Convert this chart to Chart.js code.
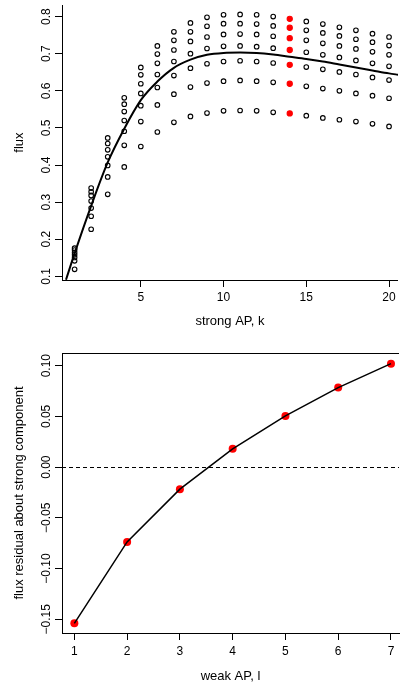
<!DOCTYPE html>
<html><head><meta charset="utf-8">
<script src="https://cdn.jsdelivr.net/npm/chart.js@4"></script>
<style>
html,body{margin:0;padding:0;background:#fff;width:403px;height:689px;overflow:hidden}
#c1{position:absolute;left:0;top:0;width:403px;height:345px}
#c2{position:absolute;left:0;top:345px;width:403px;height:344px}
</style></head><body>
<div id="c1"><canvas id="topChart"></canvas></div>
<div id="c2"><canvas id="botChart"></canvas></div>
<script>
// ---- data ----
const strongK = [1,2,3,4,5,6,7,8,9,10,11,12,13,14,15,16,17,18,19,20];
const weakL = [1,2,3,4,5,6,7];
const fluxL1 = [0.119,0.227,0.321,0.395,0.450,0.489,0.515,0.531,0.540,0.546,0.547,0.546,0.542,0.539,0.533,0.527,0.522,0.517,0.511,0.504];
const fluxL2 = [0.142,0.262,0.368,0.453,0.517,0.562,0.591,0.610,0.621,0.626,0.628,0.626,0.623,0.619,0.612,0.606,0.600,0.593,0.587,0.580];
const fluxL3 = [0.151,0.284,0.399,0.491,0.560,0.609,0.641,0.661,0.673,0.679,0.681,0.679,0.675,0.670,0.664,0.658,0.651,0.644,0.636,0.629];
const fluxL4 = [0.158,0.303,0.422,0.520,0.593,0.644,0.679,0.700,0.714,0.720,0.721,0.719,0.715,0.710,0.704,0.697,0.690,0.682,0.674,0.666];
const fluxL5 = [0.164,0.318,0.441,0.544,0.619,0.674,0.710,0.733,0.745,0.752,0.753,0.752,0.747,0.742,0.736,0.728,0.721,0.713,0.705,0.697];
const fluxL6 = [0.171,0.328,0.458,0.564,0.643,0.699,0.736,0.759,0.774,0.781,0.781,0.780,0.775,0.770,0.763,0.756,0.748,0.739,0.731,0.722];
const fluxL7 = [0.176,0.338,0.473,0.581,0.663,0.721,0.759,0.783,0.798,0.805,0.806,0.805,0.800,0.794,0.787,0.780,0.771,0.763,0.754,0.745];
const highlightK = 14;
const curveK    = [0.48, 1, 2, 3, 4, 5, 6, 7, 8, 9, 10, 11, 12, 13, 14, 15, 16, 17, 18, 19, 20, 20.6];
const curveFlux = [0.091,0.162,0.290,0.407,0.498,0.575,0.625,0.662,0.684,0.697,0.702,0.703,0.702,0.698,0.692,0.686,0.679,0.671,0.663,0.655,0.647,0.643];
const residual = [-0.154,-0.0737,-0.0217,0.018,0.0505,0.0784,0.102];
const xTicksTop = [5,10,15,20];
const yTicksTop = [0.1,0.2,0.3,0.4,0.5,0.6,0.7,0.8];
const yLabelsTop = ['0.1','0.2','0.3','0.4','0.5','0.6','0.7','0.8'];
const xTicksBottom = [1,2,3,4,5,6,7];
const yTicksBottom = [-0.15,-0.10,-0.05,0,0.05,0.10];
const yLabelsBottom = ['\u22120.15','\u22120.10','\u22120.05','0.00','0.05','0.10'];

// ---- style ----
const FONT = '"Liberation Sans", Arial, Helvetica, sans-serif';
Chart.defaults.font.family = FONT;
Chart.defaults.font.size = 12;
Chart.defaults.color = '#000';
const TITLE_FONT = {size: 13, family: FONT};

const rYLabels = {
  id: 'rYLabels',
  afterDraw(chart, args, opts) {
    const ys = chart.scales.y, ctx = chart.ctx;
    ctx.save();
    ctx.font = '12px ' + FONT;
    ctx.fillStyle = '#000';
    ctx.textAlign = 'center';
    ctx.textBaseline = 'alphabetic';
    ys.ticks.forEach((t, i) => {
      const py = ys.getPixelForValue(t.value);
      ctx.save();
      ctx.translate(opts.x, py);
      ctx.rotate(-Math.PI / 2);
      ctx.fillText(opts.labels[i], 0, 0);
      ctx.restore();
    });
    ctx.restore();
  }
};

const refLines = {
  id: 'refLines',
  beforeDatasetsDraw(chart, args, opts) {
    if (!opts.enabled) return;
    const {ctx, chartArea} = chart;
    const ys = chart.scales.y;
    ctx.save();
    ctx.strokeStyle = '#000';
    ctx.lineWidth = 1;
    ctx.setLineDash([4, 3]);
    const py = Math.round(ys.getPixelForValue(0)) + 0.5;
    ctx.beginPath(); ctx.moveTo(chartArea.left, py); ctx.lineTo(chartArea.right, py); ctx.stroke();
    ctx.setLineDash([]);
    const ty = Math.floor(chartArea.top) + 0.5;
    ctx.beginPath(); ctx.moveTo(chartArea.left, ty); ctx.lineTo(chartArea.right, ty); ctx.stroke();
    ctx.restore();
  }
};

function axisCommon() {
  return {
    grid: {display: true, drawOnChartArea: false, drawTicks: true, tickLength: 7, color: '#000', lineWidth: 1},
    border: {display: true, color: '#000', width: 1}
  };
}

// ---- top chart ----
const fluxRows = [fluxL1, fluxL2, fluxL3, fluxL4, fluxL5, fluxL6, fluxL7];
const topDatasets = [{
  label: 'fit',
  data: curveK.map((k, i) => ({x: k, y: curveFlux[i]})),
  showLine: true, borderColor: '#000', borderWidth: 2, pointRadius: 0,
  cubicInterpolationMode: 'monotone', fill: false
}];
fluxRows.forEach((row, li) => {
  topDatasets.push({
    label: 'l=' + weakL[li],
    data: strongK.map((k, i) => ({x: k, y: row[i]})),
    showLine: false,
    pointRadius: strongK.map(k => k === highlightK ? 2.6 : 2.3),
    pointBorderWidth: 1.1,
    pointBorderColor: strongK.map(k => k === highlightK ? '#ff0000' : '#000'),
    pointBackgroundColor: strongK.map(k => k === highlightK ? '#ff0000' : 'rgba(0,0,0,0)')
  });
});

new Chart(document.getElementById('topChart'), {
  type: 'scatter',
  data: {datasets: topDatasets},
  options: {
    responsive: true, maintainAspectRatio: false, animation: false,
    layout: {padding: {top: 0, left: 0, right: 0, bottom: 0}},
    plugins: {legend: {display: false}, tooltip: {enabled: false},
      rYLabels: {x: 49.5, labels: yLabelsTop}, refLines: {enabled: false}},
    scales: {
      x: Object.assign(axisCommon(), {
        type: 'linear', min: 0.238, max: 20.536,
        afterBuildTicks: s => { s.ticks = xTicksTop.map(v => ({value: v})); },
        afterFit: s => { s.height = 65; },
        ticks: {autoSkip: false, maxRotation: 0, minRotation: 0, padding: 3, color: '#000', callback: v => String(v)},
        title: {display: true, text: 'strong AP, k', color: '#000', font: TITLE_FONT, padding: {top: 0, bottom: 15.8}}
      }),
      y: Object.assign(axisCommon(), {
        type: 'linear', min: 0.0902, max: 0.831,
        afterBuildTicks: s => { s.ticks = yTicksTop.map(v => ({value: v})); },
        afterFit: s => { s.width = 62; },
        ticks: {display: false},
        title: {display: true, text: 'flux', color: '#000', font: TITLE_FONT, padding: {top: 11.7, bottom: 0}}
      })
    }
  },
  plugins: [rYLabels, refLines]
});

// ---- bottom chart ----
new Chart(document.getElementById('botChart'), {
  type: 'scatter',
  data: {datasets: [
    {label: 'line', data: weakL.map((l, i) => ({x: l, y: residual[i]})), showLine: true,
     borderColor: '#000', borderWidth: 1.5, pointRadius: 0, tension: 0, fill: false},
    {label: 'pts', data: weakL.map((l, i) => ({x: l, y: residual[i]})), showLine: false,
     pointRadius: 4, pointBorderWidth: 0, pointBackgroundColor: '#ff0000', pointBorderColor: '#ff0000'}
  ]},
  options: {
    responsive: true, maintainAspectRatio: false, animation: false,
    layout: {padding: {top: 8, left: 0, right: 0, bottom: 0}},
    plugins: {legend: {display: false}, tooltip: {enabled: false},
      rYLabels: {x: 49.5, labels: yLabelsBottom}, refLines: {enabled: true}},
    scales: {
      x: Object.assign(axisCommon(), {
        type: 'linear', min: 0.766, max: 7.152,
        afterBuildTicks: s => { s.ticks = xTicksBottom.map(v => ({value: v})); },
        afterFit: s => { s.height = 56; },
        ticks: {autoSkip: false, maxRotation: 0, minRotation: 0, padding: 4, color: '#000', callback: v => String(v)},
        title: {display: true, text: 'weak AP, l', color: '#000', font: TITLE_FONT, padding: {top: 0, bottom: 4.3}}
      }),
      y: Object.assign(axisCommon(), {
        type: 'linear', min: -0.1635, max: 0.1125,
        afterBuildTicks: s => { s.ticks = yTicksBottom.map(v => ({value: v})); },
        afterFit: s => { s.width = 62; },
        ticks: {display: false},
        title: {display: true, text: 'flux residual about strong component', color: '#000', font: TITLE_FONT, padding: {top: 11.7, bottom: 0}}
      })
    }
  },
  plugins: [rYLabels, refLines]
});
</script>
</body></html>
